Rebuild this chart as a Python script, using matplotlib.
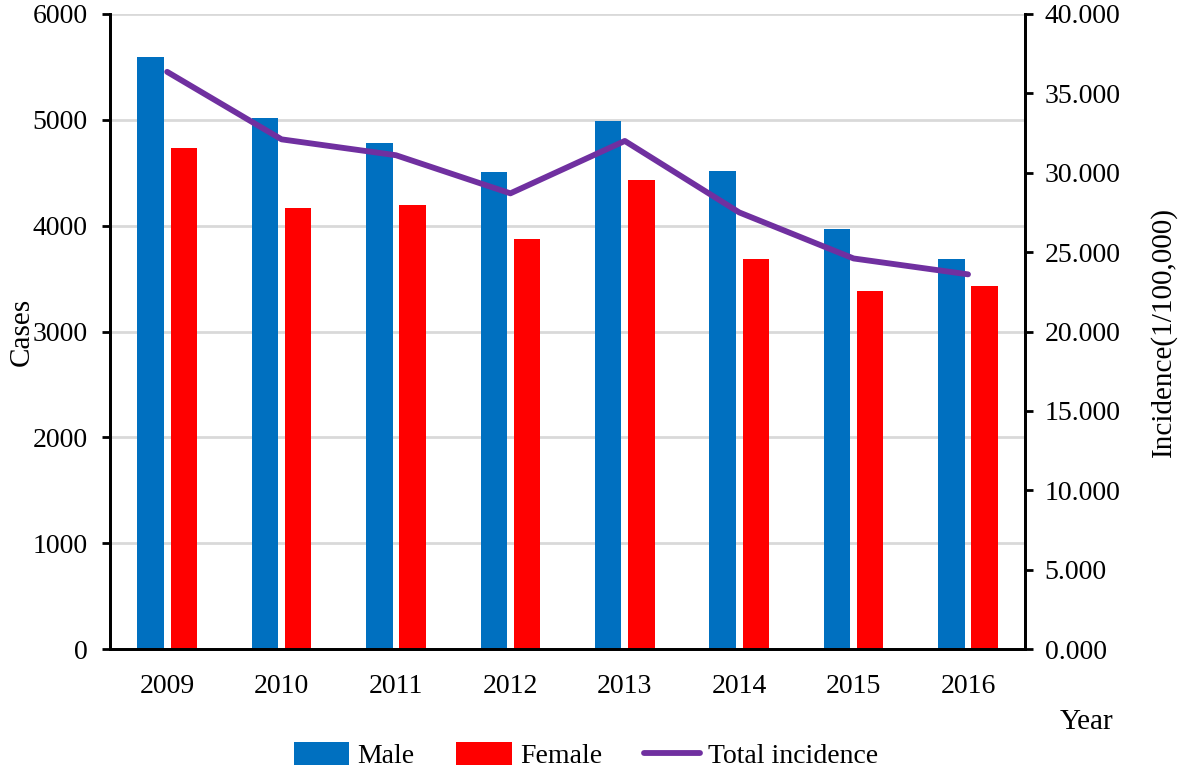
import matplotlib

matplotlib.use("Agg")
import matplotlib.pyplot as plt
import numpy as np

years = ["2009", "2010", "2011", "2012", "2013", "2014", "2015", "2016"]
male = [5590, 5020, 4785, 4510, 4990, 4515, 3970, 3685]
female = [4735, 4165, 4195, 3875, 4430, 3685, 3385, 3430]
incidence = [36.35, 32.1, 31.1, 28.7, 32.0, 27.5, 24.6, 23.6]

plt.rcParams["font.family"] = ["Liberation Serif", "DejaVu Serif"]

fig = plt.figure(figsize=(11.81, 7.71), dpi=100)
ax = fig.add_axes([0.0931, 0.158, 0.775, 0.824])
ax2 = ax.twinx()

x = np.arange(len(years))
w = 0.23
ax.bar(x - 0.145, male, w, color="#0070C0", label="Male", zorder=2)
ax.bar(x + 0.145, female, w, color="#FF0000", label="Female", zorder=2)
ax2.plot(x, incidence, color="#7030A0", lw=4.2, solid_capstyle="round",
         label="Total incidence", zorder=3)

ax.set_xlim(-0.5, len(years) - 0.5)
ax.set_ylim(0, 6000)
ax.set_yticks(range(0, 6001, 1000))
ax2.set_ylim(0, 40)
ax2.set_yticks(np.arange(0, 40.1, 5))
ax2.set_yticklabels([f"{v:.3f}" for v in np.arange(0, 40.1, 5)])
ax.set_xticks(x)
ax.set_xticklabels(years)

ax.yaxis.grid(True, color="#D9D9D9", lw=2, zorder=0)
ax.set_axisbelow(True)
for a in (ax, ax2):
    a.spines["top"].set_visible(False)
    for s in ("left", "right", "bottom"):
        a.spines[s].set_linewidth(2)
ax.tick_params(axis="y", labelsize=20, length=6, width=2, pad=10)
ax.tick_params(axis="x", labelsize=20, length=0, pad=18)
ax2.tick_params(axis="y", labelsize=20, length=6, width=2, pad=8)

ax.set_ylabel("Cases", fontsize=21)
ax.yaxis.set_label_coords(-0.082, 0.5)
ax2.set_ylabel("Incidence(1/100,000)", fontsize=21)
ax2.yaxis.set_label_coords(1.136, 0.5)
fig.text(0.897, 0.063, "Year", fontsize=21, ha="left", va="center")

handles = [h for a in (ax, ax2) for h in a.get_legend_handles_labels()[0]]
labels = [l for a in (ax, ax2) for l in a.get_legend_handles_labels()[1]]
fig.legend(handles, labels, loc="center", bbox_to_anchor=(0.496, 0.02),
           ncol=3, frameon=False, fontsize=20, handlelength=2.0,
           handleheight=0.9, handletextpad=0.3, columnspacing=1.5)

fig.savefig("out.png", dpi=100)
